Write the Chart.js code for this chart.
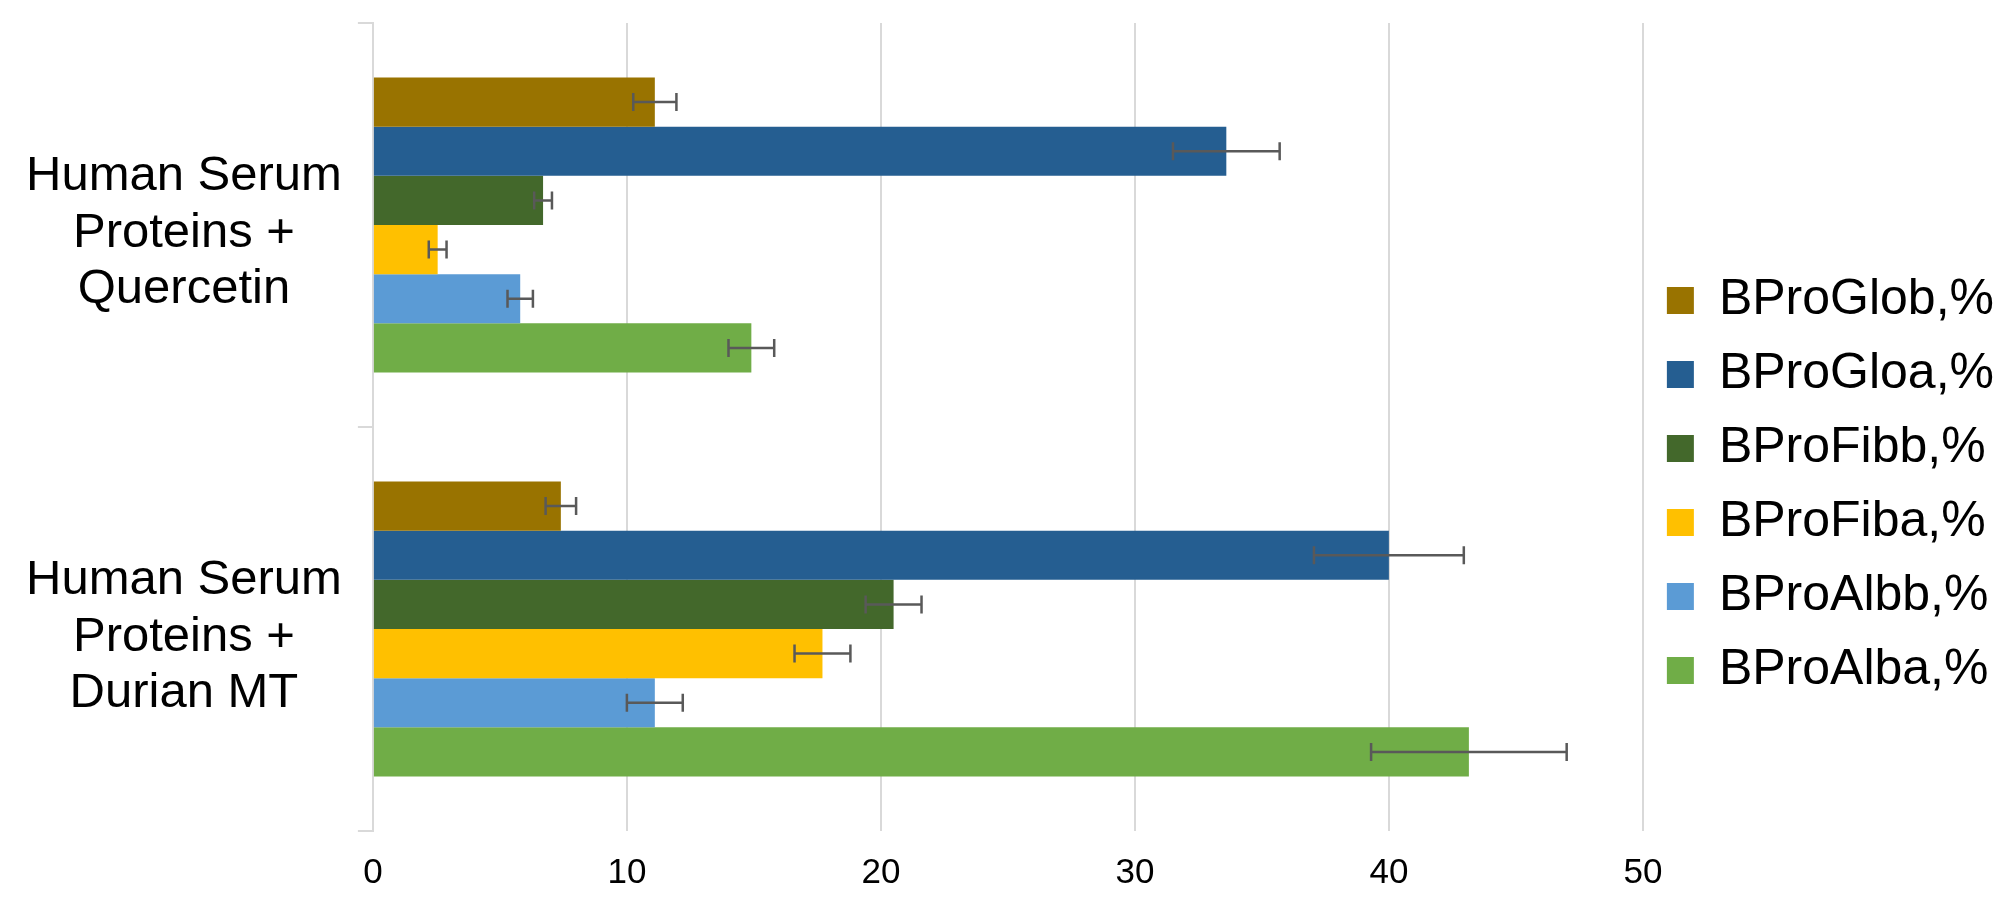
<!DOCTYPE html>
<html>
<head>
<meta charset="utf-8">
<script src="https://cdn.jsdelivr.net/npm/chart.js@4"></script>
<style>
  body { margin: 0; background: #fff; }
  #wrap { width: 2004px; height: 900px; }
</style>
</head>
<body>
<div id="wrap"><canvas id="proteinChart" width="2004" height="900"></canvas></div>
<script>
// categories (top to bottom)
var categories = [
    ['Human Serum', 'Proteins +', 'Quercetin'],
    ['Human Serum', 'Proteins +', 'Durian MT']
];
var seriesNames = ['BProGlob,%', 'BProGloa,%', 'BProFibb,%', 'BProFiba,%', 'BProAlbb,%', 'BProAlba,%'];
var seriesColors = ['#997300', '#255E91', '#43682B', '#FFC000', '#5B9BD5', '#70AD47'];

// values per series: [Quercetin, Durian MT]
var globValues = [11.1, 7.4];
var gloaValues = [33.6, 40.0];
var fibbValues = [6.7, 20.5];
var fibaValues = [2.55, 17.7];
var albbValues = [5.8, 11.1];
var albaValues = [14.9, 43.15];

// error (+/-) per series
var globErr = [0.85, 0.6];
var gloaErr = [2.1, 2.95];
var fibbErr = [0.35, 1.1];
var fibaErr = [0.35, 1.1];
var albbErr = [0.5, 1.1];
var albaErr = [0.9, 3.85];

var xTicks = [0, 10, 20, 30, 40, 50];

var allValues = [globValues, gloaValues, fibbValues, fibaValues, albbValues, albaValues];
var allErrors = [globErr, gloaErr, fibbErr, fibaErr, albbErr, albaErr];

var FONT = "'Liberation Sans', Arial, sans-serif";

var errorBars = {
    id: 'errorBars',
    afterDatasetsDraw: function (chart) {
        var ctx = chart.ctx;
        var xScale = chart.scales.x;
        ctx.save();
        ctx.strokeStyle = '#595959';
        ctx.lineWidth = 2.5;
        chart.data.datasets.forEach(function (ds, i) {
            var meta = chart.getDatasetMeta(i);
            meta.data.forEach(function (bar, j) {
                var v = ds.data[j];
                var e = ds.errors[j];
                var x1 = xScale.getPixelForValue(v - e);
                var x2 = xScale.getPixelForValue(v + e);
                var y = bar.y;
                ctx.beginPath();
                ctx.moveTo(x1, y); ctx.lineTo(x2, y);
                ctx.moveTo(x1, y - 9); ctx.lineTo(x1, y + 9);
                ctx.moveTo(x2, y - 9); ctx.lineTo(x2, y + 9);
                ctx.stroke();
            });
        });
        ctx.restore();
    }
};

var ctx = document.getElementById('proteinChart').getContext('2d');
var proteinChart = new Chart(ctx, {
    type: 'bar',
    data: {
        labels: categories,
        datasets: seriesNames.map(function (name, i) {
            return {
                label: name,
                data: allValues[i],
                errors: allErrors[i],
                backgroundColor: seriesColors[i],
                borderWidth: 0,
                categoryPercentage: 0.73,
                barPercentage: 1.0
            };
        })
    },
    options: {
        indexAxis: 'y',
        responsive: false,
        devicePixelRatio: 1,
        animation: false,
        layout: {
            padding: { top: 23, bottom: 4, left: 10, right: 0 }
        },
        scales: {
            x: {
                min: 0,
                max: 50,
                afterBuildTicks: function (axis) {
                    axis.ticks = xTicks.map(function (v) { return { value: v }; });
                },
                afterFit: function (scale) {
                    scale.height = 65;
                },
                grid: {
                    color: '#d9d9d9',
                    lineWidth: 2,
                    drawTicks: false
                },
                border: { display: false },
                ticks: {
                    color: '#000',
                    padding: 21,
                    font: { family: FONT, size: 35 }
                }
            },
            y: {
                afterFit: function (scale) {
                    // labels sit inside their bands, no extra room above/below
                    scale.paddingTop = 0;
                    scale.paddingBottom = 0;
                },
                grid: {
                    offset: true,
                    drawOnChartArea: false,
                    color: '#d9d9d9',
                    lineWidth: 2,
                    tickLength: 15
                },
                border: { color: '#d9d9d9', width: 2 },
                ticks: {
                    color: '#000',
                    padding: 16,
                    labelOffset: 8,
                    crossAlign: 'center',
                    font: { family: FONT, size: 49, lineHeight: 1.16 }
                }
            }
        },
        plugins: {
            legend: {
                position: 'right',
                title: {
                    display: true,
                    text: ' ',
                    padding: 20,
                    font: { size: 10 }
                },
                labels: {
                    color: '#000',
                    boxWidth: 27,
                    boxHeight: 27,
                    padding: 24,
                    font: { family: FONT, size: 50 }
                }
            },
            tooltip: { enabled: false }
        }
    },
    plugins: [errorBars]
});
</script>
</body>
</html>
